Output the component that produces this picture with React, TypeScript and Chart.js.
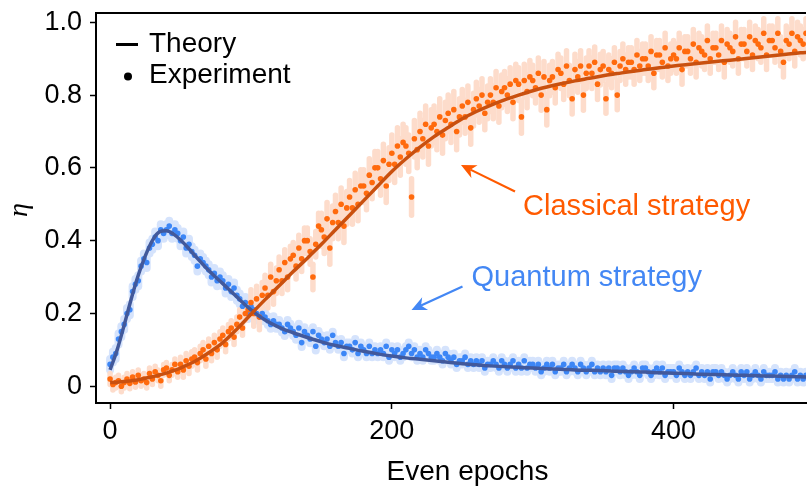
import React, { useEffect, useRef } from "react";
import { Chart, registerables } from "chart.js";

Chart.register(...registerables);

// ---------- data ----------
const X_TICKS = [0, 200, 400];
const Y_TICKS = [0, 0.2, 0.4, 0.6, 0.8, 1.0];

const THEORY_EPOCHS = [
  0, 5, 10, 15, 20, 25, 30, 35, 40, 45, 50, 55, 60, 70, 80, 90, 100, 110, 120, 130, 140, 150, 160, 170, 180,
  190, 200, 210, 220, 230, 240, 250, 260, 270, 280, 290, 300, 310, 320, 330, 340, 350, 360, 370, 380, 390,
  400, 410, 420, 430, 440, 450, 460, 470, 480, 490, 500,
];
const CLASSICAL_THEORY = [
  0.01, 0.011, 0.013, 0.015, 0.018, 0.022, 0.026, 0.031, 0.036, 0.043, 0.05, 0.059, 0.068, 0.092, 0.12, 0.157,
  0.198, 0.238, 0.276, 0.315, 0.352, 0.39, 0.43, 0.47, 0.51, 0.55, 0.59, 0.625, 0.657, 0.686, 0.711, 0.735,
  0.755, 0.772, 0.787, 0.8, 0.812, 0.822, 0.831, 0.839, 0.846, 0.853, 0.859, 0.865, 0.87, 0.875, 0.88, 0.884,
  0.888, 0.892, 0.896, 0.9, 0.904, 0.908, 0.912, 0.916, 0.919,
];
const QUANTUM_THEORY = [
  0.045, 0.1, 0.168, 0.24, 0.305, 0.358, 0.4, 0.424, 0.427, 0.418, 0.402, 0.382, 0.36, 0.318, 0.282, 0.245,
  0.21, 0.182, 0.162, 0.147, 0.134, 0.122, 0.112, 0.104, 0.096, 0.089, 0.083, 0.078, 0.074, 0.07, 0.066, 0.062,
  0.059, 0.056, 0.054, 0.052, 0.05, 0.048, 0.047, 0.045, 0.044, 0.043, 0.041, 0.04, 0.039, 0.037, 0.036, 0.035,
  0.033, 0.032, 0.031, 0.03, 0.029, 0.028, 0.027, 0.026, 0.025,
];

// experiment: one value per even epoch 0, 2, 4, ... 498
const CLASSICAL_EXP = [
  0.02, 0.005, 0.01, 0.015, 0.0, 0.01, 0.02, 0.008, 0.025, 0.012,
  0.03, 0.015, 0.02, 0.01, 0.035, 0.02, 0.04, 0.03, 0.015, 0.045,
  0.05, 0.03, 0.045, 0.06, 0.04, 0.06, 0.045, 0.07, 0.055, 0.075,
  0.08, 0.065, 0.09, 0.1, 0.075, 0.11, 0.09, 0.12, 0.1, 0.13,
  0.14, 0.115, 0.15, 0.16, 0.135, 0.17, 0.19, 0.16, 0.2, 0.21,
  0.23, 0.2, 0.24, 0.19, 0.25, 0.27, 0.25, 0.3, 0.26, 0.29,
  0.32, 0.29, 0.34, 0.3, 0.35, 0.36, 0.33, 0.38, 0.35, 0.4,
  0.4, 0.37, 0.3, 0.39, 0.44, 0.43, 0.41, 0.46, 0.38, 0.45,
  0.48, 0.45, 0.5, 0.44, 0.49, 0.52, 0.49, 0.54, 0.5, 0.55,
  0.55, 0.53, 0.58, 0.56, 0.6, 0.6, 0.57, 0.62, 0.55, 0.61,
  0.64, 0.61, 0.66, 0.63, 0.67, 0.66, 0.64, 0.52, 0.68, 0.65,
  0.7, 0.68, 0.72, 0.66, 0.71, 0.72, 0.7, 0.74, 0.69, 0.73,
  0.75, 0.72, 0.76, 0.7, 0.74, 0.77, 0.74, 0.78, 0.71, 0.76,
  0.79, 0.77, 0.8, 0.75, 0.78, 0.8, 0.78, 0.82, 0.77, 0.81,
  0.82, 0.8, 0.83, 0.78, 0.84, 0.83, 0.74, 0.84, 0.81, 0.85,
  0.84, 0.82, 0.86, 0.8, 0.85, 0.76, 0.84, 0.85, 0.82, 0.87,
  0.86, 0.83, 0.88, 0.84, 0.79, 0.87, 0.85, 0.88, 0.8, 0.86,
  0.88, 0.86, 0.89, 0.83, 0.87, 0.88, 0.79, 0.87, 0.86, 0.89,
  0.8, 0.88, 0.9, 0.87, 0.89, 0.89, 0.87, 0.91, 0.88, 0.9,
  0.9, 0.88, 0.92, 0.86, 0.91, 0.91, 0.89, 0.93, 0.88, 0.9,
  0.91, 0.9, 0.93, 0.87, 0.92, 0.92, 0.9, 0.94, 0.89, 0.93,
  0.92, 0.91, 0.95, 0.9, 0.93, 0.93, 0.91, 0.95, 0.89, 0.94,
  0.93, 0.92, 0.96, 0.9, 0.94, 0.94, 0.92, 0.96, 0.91, 0.95,
  0.94, 0.93, 0.97, 0.91, 0.95, 0.95, 0.93, 0.97, 0.92, 0.89,
  0.95, 0.94, 0.97, 0.92, 0.96, 0.95, 0.94, 0.97, 0.93, 0.96,
];
const QUANTUM_EXP = [
  0.06, 0.08, 0.09, 0.13, 0.15, 0.17, 0.2, 0.21, 0.26, 0.28,
  0.29, 0.33, 0.35, 0.34, 0.38, 0.39, 0.41, 0.4, 0.43, 0.42,
  0.43, 0.44, 0.42, 0.43, 0.42, 0.4, 0.41, 0.38, 0.39, 0.37,
  0.36, 0.33, 0.35, 0.34, 0.33, 0.32, 0.3, 0.31, 0.29, 0.3,
  0.29, 0.27, 0.28, 0.26, 0.27, 0.25, 0.24, 0.22, 0.23, 0.2,
  0.22, 0.21, 0.2, 0.19, 0.2, 0.19, 0.18, 0.17, 0.18, 0.17,
  0.17, 0.16, 0.15, 0.17, 0.16, 0.15, 0.14, 0.16, 0.12, 0.15,
  0.14, 0.13, 0.15, 0.11, 0.14, 0.13, 0.12, 0.13, 0.11, 0.14,
  0.12, 0.11, 0.12, 0.09, 0.11, 0.11, 0.1, 0.12, 0.09, 0.11,
  0.1, 0.09, 0.11, 0.09, 0.1, 0.09, 0.1, 0.09, 0.11, 0.08,
  0.1, 0.09, 0.1, 0.08, 0.09, 0.1, 0.11, 0.09, 0.1, 0.08,
  0.09, 0.08, 0.1, 0.09, 0.08, 0.08, 0.09, 0.08, 0.07, 0.09,
  0.08, 0.07, 0.08, 0.06, 0.07, 0.07, 0.08, 0.06, 0.07, 0.06,
  0.07, 0.06, 0.07, 0.05, 0.06, 0.06, 0.07, 0.06, 0.05, 0.07,
  0.06, 0.05, 0.06, 0.07, 0.05, 0.06, 0.05, 0.07, 0.05, 0.06,
  0.06, 0.05, 0.06, 0.04, 0.05, 0.06, 0.05, 0.06, 0.04, 0.05,
  0.05, 0.06, 0.04, 0.05, 0.06, 0.05, 0.04, 0.06, 0.05, 0.04,
  0.05, 0.06, 0.04, 0.05, 0.04, 0.05, 0.04, 0.05, 0.03, 0.05,
  0.05, 0.04, 0.05, 0.04, 0.03, 0.04, 0.05, 0.04, 0.03, 0.05,
  0.05, 0.04, 0.03, 0.04, 0.05, 0.04, 0.05, 0.03, 0.04, 0.04,
  0.04, 0.03, 0.05, 0.04, 0.03, 0.04, 0.03, 0.04, 0.05, 0.03,
  0.04, 0.03, 0.04, 0.02, 0.04, 0.04, 0.03, 0.04, 0.03, 0.02,
  0.03, 0.04, 0.03, 0.02, 0.04, 0.03, 0.04, 0.02, 0.03, 0.04,
  0.03, 0.02, 0.04, 0.03, 0.03, 0.03, 0.04, 0.02, 0.03, 0.02,
  0.03, 0.02, 0.03, 0.04, 0.02, 0.03, 0.02, 0.03, 0.02, 0.03,
];
// error-bar half heights, one per block of 50 epochs
const ERROR_BLOCK = 50;
const CLASSICAL_ERR = [0.015, 0.02, 0.035, 0.045, 0.05, 0.045, 0.042, 0.04, 0.04, 0.04];
const QUANTUM_ERR = [0.015, 0.015, 0.012, 0.01, 0.01, 0.01, 0.01, 0.01, 0.01, 0.01];

const EVEN_EPOCHS = CLASSICAL_EXP.map((_, i) => i * 2);

// ---------- styles ----------
const ORANGE_DOT = "#ff6a0d";
const ORANGE_LINE = "#c9500f";
const ORANGE_BAR = "#fddccb";
const ORANGE_TEXT = "#ff5a00";
const BLUE_DOT = "#3c86f6";
const BLUE_LINE = "#42599b";
const BLUE_BAR = "#d5e3fc";
const BLUE_TEXT = "#4387f4";
const SANS = "'Liberation Sans', Arial, Helvetica, sans-serif";

function drawArrow(ctx: CanvasRenderingContext2D, x0: number, y0: number, x1: number, y1: number, color: string) {
  const dx = x1 - x0, dy = y1 - y0;
  const len = Math.hypot(dx, dy);
  const ux = dx / len, uy = dy / len;
  const px = -uy, py = ux;
  const L = 15, W = 7;
  ctx.save();
  ctx.strokeStyle = color;
  ctx.fillStyle = color;
  ctx.lineWidth = 2.2;
  ctx.beginPath();
  ctx.moveTo(x0, y0);
  ctx.lineTo(x1 - ux * L * 0.7, y1 - uy * L * 0.7);
  ctx.stroke();
  ctx.beginPath();
  ctx.moveTo(x1, y1);
  ctx.lineTo(x1 - ux * L + px * W, y1 - uy * L + py * W);
  ctx.lineTo(x1 - ux * L * 0.7, y1 - uy * L * 0.7);
  ctx.lineTo(x1 - ux * L - px * W, y1 - uy * L - py * W);
  ctx.closePath();
  ctx.fill();
  ctx.restore();
}

const errorBarPlugin = {
  id: "errorBars",
  beforeDatasetsDraw(chart: any) {
    const { ctx, chartArea, scales } = chart;
    ctx.save();
    ctx.beginPath();
    ctx.rect(chartArea.left, chartArea.top, chartArea.right - chartArea.left, chartArea.bottom - chartArea.top);
    ctx.clip();
    ctx.lineCap = "round";
    const drawSet = (vals: number[], errs: number[], color: string, w: number) => {
      ctx.strokeStyle = color;
      ctx.lineWidth = w;
      vals.forEach((v, i) => {
        const e = EVEN_EPOCHS[i];
        const err = errs[Math.min(errs.length - 1, Math.floor(e / ERROR_BLOCK))];
        const x = scales.x.getPixelForValue(e);
        ctx.beginPath();
        ctx.moveTo(x, scales.y.getPixelForValue(v + err));
        ctx.lineTo(x, scales.y.getPixelForValue(v - err));
        ctx.stroke();
      });
    };
    drawSet(QUANTUM_EXP, QUANTUM_ERR, BLUE_BAR, 8);
    drawSet(CLASSICAL_EXP, CLASSICAL_ERR, ORANGE_BAR, 5.5);
    ctx.restore();
  },
};

const decorPlugin = {
  id: "decor",
  afterDraw(chart: any) {
    const { ctx, chartArea } = chart;
    ctx.save();
    // top frame
    ctx.strokeStyle = "#000";
    ctx.lineWidth = 2;
    ctx.beginPath();
    ctx.moveTo(chartArea.left - 1, chartArea.top);
    ctx.lineTo(chartArea.right, chartArea.top);
    ctx.stroke();

    // legend
    ctx.fillStyle = "#000";
    ctx.lineWidth = 3;
    ctx.beginPath();
    ctx.moveTo(116, 44.5);
    ctx.lineTo(138, 44.5);
    ctx.stroke();
    ctx.beginPath();
    ctx.arc(128, 76.5, 4, 0, Math.PI * 2);
    ctx.fill();
    ctx.font = `28px ${SANS}`;
    ctx.textAlign = "left";
    ctx.textBaseline = "alphabetic";
    ctx.fillText("Theory", 149, 52);
    ctx.fillText("Experiment", 149, 83);

    // axis titles
    ctx.textAlign = "center";
    ctx.fillText("Even epochs", 467.5, 480);
    ctx.save();
    ctx.translate(27, 210);
    ctx.rotate(-Math.PI / 2);
    ctx.font = `italic 28px 'Liberation Serif', 'DejaVu Serif', serif`;
    ctx.textBaseline = "alphabetic";
    ctx.fillText("η", 0, 0);
    ctx.restore();

    // annotations
    ctx.textAlign = "left";
    ctx.font = `29px ${SANS}`;
    ctx.fillStyle = ORANGE_TEXT;
    ctx.fillText("Classical strategy", 523, 215);
    drawArrow(ctx, 515, 191.5, 461, 165, ORANGE_TEXT);
    ctx.fillStyle = BLUE_TEXT;
    ctx.fillText("Quantum strategy", 471.5, 286);
    drawArrow(ctx, 462.5, 286.5, 411.5, 310, BLUE_TEXT);
    ctx.restore();
  },
};

export default function App() {
  const ref = useRef<HTMLCanvasElement>(null);
  useEffect(() => {
    const canvas = ref.current!;
    const pts = (xs: number[], ys: number[]) => ys.map((y, i) => ({ x: xs[i], y }));
    const chart = new Chart(canvas, {
      type: "scatter",
      data: {
        datasets: [
          {
            label: "Classical theory",
            data: pts(THEORY_EPOCHS, CLASSICAL_THEORY),
            showLine: true,
            borderColor: ORANGE_LINE,
            borderWidth: 3.5,
            pointRadius: 0,
            cubicInterpolationMode: "monotone",
            order: 0,
          },
          {
            label: "Quantum theory",
            data: pts(THEORY_EPOCHS, QUANTUM_THEORY),
            showLine: true,
            borderColor: BLUE_LINE,
            borderWidth: 3.5,
            pointRadius: 0,
            cubicInterpolationMode: "monotone",
            order: 0,
          },
          {
            label: "Classical experiment",
            data: pts(EVEN_EPOCHS, CLASSICAL_EXP),
            backgroundColor: ORANGE_DOT,
            borderWidth: 0,
            pointRadius: 2.8,
            order: 1,
          },
          {
            label: "Quantum experiment",
            data: pts(EVEN_EPOCHS, QUANTUM_EXP),
            backgroundColor: BLUE_DOT,
            borderWidth: 0,
            pointRadius: 2.8,
            order: 1,
          },
        ],
      } as any,
      options: {
        responsive: false,
        animation: false,
        devicePixelRatio: 1,
        layout: { padding: { top: 13, right: 0, left: 0, bottom: 0 } },
        plugins: { legend: { display: false }, tooltip: { enabled: false } },
        scales: {
          x: {
            type: "linear",
            min: -10,
            max: 494,
            grid: { drawOnChartArea: false, drawTicks: true, tickLength: 6, tickColor: "#000", tickWidth: 1.5 },
            border: { display: true, color: "#000", width: 2 },
            ticks: { color: "#000", font: { family: SANS, size: 27 }, padding: 6, maxRotation: 0 },
            afterBuildTicks: (axis: any) => {
              axis.ticks = X_TICKS.map((v) => ({ value: v }));
            },
            afterFit: (axis: any) => {
              axis.height = 86;
              axis.paddingLeft = 0;
              axis.paddingRight = 0;
            },
          },
          y: {
            type: "linear",
            min: -0.046,
            max: 1.0255,
            grid: { drawOnChartArea: false, drawTicks: true, tickLength: 6, tickColor: "#000", tickWidth: 1.5 },
            border: { display: true, color: "#000", width: 2 },
            ticks: {
              color: "#000",
              font: { family: SANS, size: 27 },
              padding: 8,
              callback: (v: any) => (Number(v) === 0 ? "0" : Number(v).toFixed(1)),
            },
            afterBuildTicks: (axis: any) => {
              axis.ticks = Y_TICKS.map((v) => ({ value: v }));
            },
            afterFit: (axis: any) => {
              axis.width = 96;
              axis.paddingTop = 0;
              axis.paddingBottom = 0;
            },
          },
        },
      } as any,
      plugins: [errorBarPlugin, decorPlugin],
    });
    return () => chart.destroy();
  }, []);
  return (
    <div style={{ position: "fixed", left: 0, top: 0, width: 810, height: 489, background: "#fff" }}>
      <canvas ref={ref} width={810} height={489} style={{ display: "block", width: 810, height: 489 }} />
    </div>
  );
}
